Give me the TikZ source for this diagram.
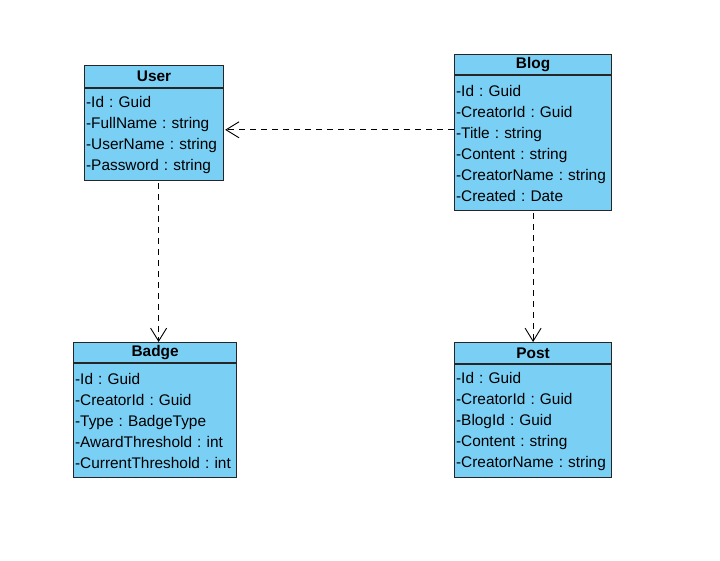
\documentclass[tikz,border=0pt]{standalone}
\usepackage{fontspec}
\setmainfont{Liberation Sans}
\usetikzlibrary{positioning,arrows.meta}
\frenchspacing

\definecolor{classblue}{RGB}{122,207,245}
\tikzset{
  classhead/.style={draw=black!85, line width=1.2pt, fill=classblue, font=\fontsize{15.4pt}{21pt}\selectfont\bfseries, inner sep=0pt, anchor=north west},
  classbody/.style={draw=black!85, line width=1.2pt, fill=classblue, align=left, inner xsep=1.5pt, inner ysep=0pt, below=0pt of #1},
  dep/.style={line width=0.9pt, dash pattern=on 6pt off 5pt, -{Straight Barb[length=13pt,width=16pt]}}
}

\begin{document}
\begin{tikzpicture}[x=1pt, y=-1pt, font=\fontsize{15.4pt}{21pt}\selectfont]
        \useasboundingbox (0,0) rectangle (720,560);
        \node[classhead, minimum width=139pt, minimum height=22pt] (user) at (84,65) {User};
        \node[classbody=user, text width=136pt, minimum height=92pt] (userattr) {-Id : Guid\\-FullName : string\\-UserName : string\\-Password : string};
        \node[classhead, minimum width=157pt, minimum height=20pt] (blog) at (454,54) {Blog};
        \node[classbody=blog, text width=154pt, minimum height=135pt] (blogattr) {-Id : Guid\\-CreatorId : Guid\\-Title : string\\-Content : string\\-CreatorName : string\\-Created : Date};
        \node[classhead, minimum width=163pt, minimum height=20pt] (badge) at (73,342) {Badge};
        \node[classbody=badge, text width=160pt, minimum height=114pt] (badgeattr) {-Id : Guid\\-CreatorId : Guid\\-Type : BadgeType\\-AwardThreshold : int\\-CurrentThreshold : int};
        \node[classhead, minimum width=157pt, minimum height=21pt] (post) at (454,342) {Post};
        \node[classbody=post, text width=154pt, minimum height=113pt] (postattr) {-Id : Guid\\-CreatorId : Guid\\-BlogId : Guid\\-Content : string\\-CreatorName : string};
        \coordinate (userdown) at ([xshift=4.5pt]userattr.south);
        \coordinate (userjoin) at ([yshift=5pt,xshift=1pt]userattr.east);
        \draw[dep, shorten <=2pt] (userdown) -- (userdown |- badge.north);
        \draw[dep] (blogattr.west |- userjoin) -- (userjoin);
        \draw[dep, shorten <=2pt] (blogattr.south) -- (post.north);
    \end{tikzpicture}
\end{document}
